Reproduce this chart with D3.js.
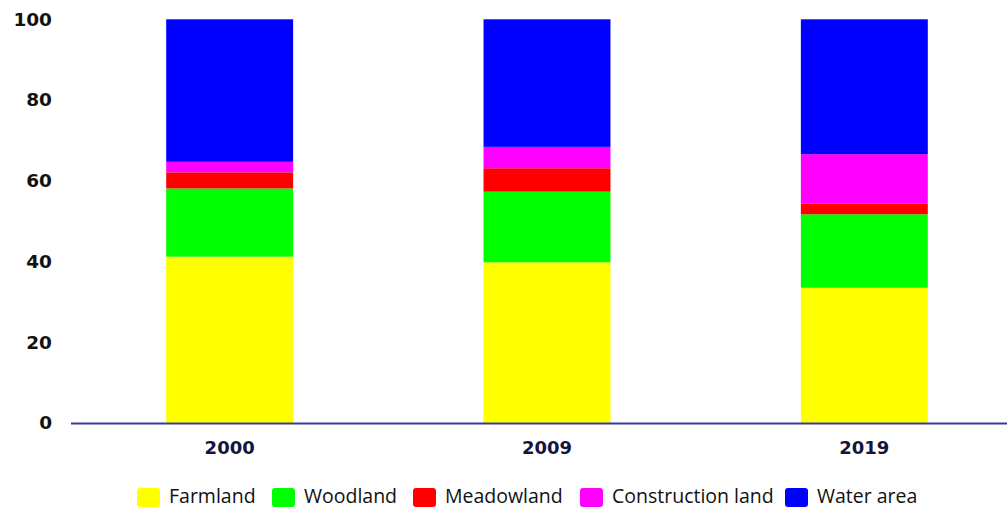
<!DOCTYPE html>
<meta charset="utf-8">
<style>
  body { margin: 0; background: #fff; }
  .tick text { font-family: "DejaVu Sans", sans-serif; font-weight: bold; }
  .legend text { font-family: "Open Sans", sans-serif; font-size: 19.5px; fill: #111; }
</style>
<script src="https://d3js.org/d3.v7.min.js"></script>
<div id="chart"></div>
<script>
  // data (percent of area)
  var years = ["2000", "2009", "2019"];
  var landTypes = ["Farmland", "Woodland", "Meadowland", "Construction land", "Water area"];
  var farmland = [41.2, 39.8, 33.5];
  var woodland = [16.9, 17.5, 18.2];
  var meadowland = [4.0, 5.8, 2.7];
  var construction = [2.6, 5.3, 12.2];
  var water = [35.3, 31.6, 33.4];
  var yTicks = [0, 20, 40, 60, 80, 100];
  var colors = ["#ffff00", "#00ff00", "#ff0000", "#ff00ff", "#0000ff"];

  var width = 1007, height = 508;
  var svg = d3.select("#chart").append("svg")
      .attr("width", width)
      .attr("height", height);

  var rows = years.map(function(y, i) {
    return { year: y, Farmland: farmland[i], Woodland: woodland[i], Meadowland: meadowland[i],
             "Construction land": construction[i], "Water area": water[i] };
  });
  var series = d3.stack().keys(landTypes)(rows);

  var x = d3.scaleBand()
      .domain(years)
      .range([71, 1023])
      .paddingInner(0.6)
      .paddingOuter(0.3);

  var y = d3.scaleLinear()
      .domain([0, 100])
      .range([423, 19.3]);

  // stacked bars
  svg.append("g").selectAll("g")
    .data(series)
    .enter().append("g")
      .attr("fill", function(d, i) { return colors[i]; })
    .selectAll("rect")
    .data(function(d) { return d; })
    .enter().append("rect")
      .attr("x", function(d) { return x(d.data.year); })
      .attr("y", function(d) { return y(d[1]); })
      .attr("width", x.bandwidth())
      .attr("height", function(d) { return y(d[0]) - y(d[1]); });

  // y axis: labels only
  var yAxis = svg.append("g")
      .attr("transform", "translate(55,0)")
      .call(d3.axisLeft(y).tickValues(yTicks).tickSize(0).tickPadding(3));
  yAxis.select(".domain").remove();
  yAxis.selectAll("text").style("font-size", "18.5px").attr("fill", "#111");

  // baseline
  svg.append("line")
      .attr("x1", 71).attr("x2", width)
      .attr("y1", y(0) + 0.5).attr("y2", y(0) + 0.5)
      .attr("stroke", "#3a3a9a")
      .attr("stroke-width", 2);

  // x axis labels
  var xAxis = svg.append("g")
      .attr("transform", "translate(0," + y(0) + ")")
      .call(d3.axisBottom(x).tickSize(0).tickPadding(18));
  xAxis.select(".domain").remove();
  xAxis.selectAll("text").style("font-size", "18px").attr("fill", "#14143c");

  // legend
  var legendX = [137, 272, 413, 580, 785];
  var legend = svg.append("g").attr("class", "legend");
  var item = legend.selectAll("g")
    .data(landTypes)
    .enter().append("g")
      .attr("transform", function(d, i) { return "translate(" + legendX[i] + ",488)"; });
  item.append("rect")
      .attr("width", 23).attr("height", 19).attr("rx", 3)
      .attr("fill", function(d, i) { return colors[i]; });
  item.append("text")
      .attr("x", 32).attr("y", 10)
      .attr("dominant-baseline", "middle")
      .text(function(d) { return d; });
</script>
